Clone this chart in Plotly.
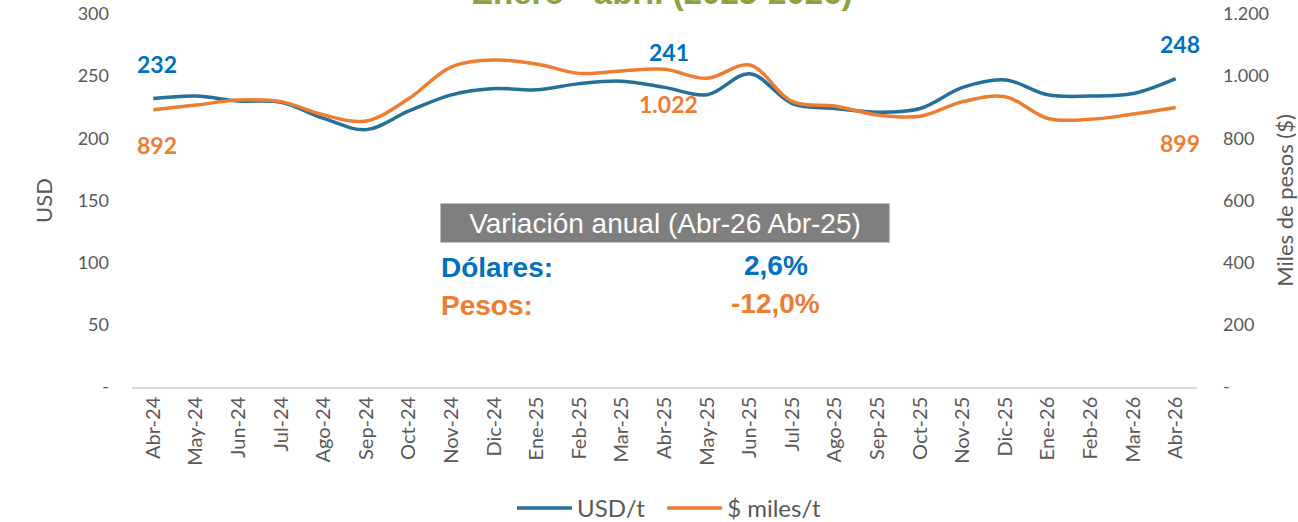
import plotly.graph_objects as go

months = ["Abr-24", "May-24", "Jun-24", "Jul-24", "Ago-24", "Sep-24", "Oct-24",
          "Nov-24", "Dic-24", "Ene-25", "Feb-25", "Mar-25", "Abr-25", "May-25",
          "Jun-25", "Jul-25", "Ago-25", "Sep-25", "Oct-25", "Nov-25", "Dic-25",
          "Ene-26", "Feb-26", "Mar-26", "Abr-26"]
usd_t = [232, 234, 230, 229, 216, 207, 222, 235, 240, 239, 244, 246, 241, 235,
         252, 228, 224, 221, 224, 241, 247, 235, 234, 236, 248]
pesos_t = [892, 907, 923, 918, 875, 856, 928, 1030, 1052, 1039, 1009, 1017, 1022, 993,
           1036, 918, 904, 875, 871, 918, 934, 864, 861, 878, 899]

left_ticks = [0, 50, 100, 150, 200, 250, 300]
left_text = ["-", "50", "100", "150", "200", "250", "300"]
right_ticks = [0, 200, 400, 600, 800, 1000, 1200]
right_text = ["-", "200", "400", "600", "800", "1.000", "1.200"]

usd_labels = {"Abr-24": "232", "Abr-25": "241", "Abr-26": "248"}
peso_labels = {"Abr-24": "892", "Abr-25": "1.022", "Abr-26": "899"}

title_text = "Enero - abril (2025-2026)"
box_text = "Variación anual (Abr-26 Abr-25)"
var_usd = "2,6%"
var_pesos = "-12,0%"

BLUE_LINE = "#256F98"
ORANGE_LINE = "#EF7D31"
BLUE_TXT = "#0070C0"
ORANGE_TXT = "#ED7D31"
GREY = "#595959"

fig = go.Figure()
fig.add_trace(go.Scatter(x=months, y=usd_t, name="USD/t\u00a0\u00a0", mode="lines",
                         line=dict(color=BLUE_LINE, width=3.5, shape="spline", smoothing=1.0),
                         yaxis="y"))
fig.add_trace(go.Scatter(x=months, y=pesos_t, name="$ miles/t", mode="lines",
                         line=dict(color=ORANGE_LINE, width=3.5, shape="spline", smoothing=1.0),
                         yaxis="y2"))

ann = []
for m, t in usd_labels.items():
    i = months.index(m)
    ann.append(dict(x=m, y=usd_t[i], xref="x", yref="y", text="<b>%s</b>" % t,
                    showarrow=False, xshift=4, yshift=35,
                    font=dict(family="Lato", size=23, color=BLUE_TXT)))
for m, t in peso_labels.items():
    i = months.index(m)
    ann.append(dict(x=m, y=pesos_t[i], xref="x", yref="y2", text="<b>%s</b>" % t,
                    showarrow=False, xshift=4, yshift=-35,
                    font=dict(family="Lato", size=23, color=ORANGE_TXT)))

L, R, T, B = 132, 101, 14, 135.3
W, H = 1298, 522
PW, PH = W - L - R, H - T - B

def px(x):
    return (x - L) / PW

def py(y):
    return (H - B - y) / PH

ann.append(dict(x=px(662), y=py(13), xref="paper", yref="paper", text="<b>%s</b>" % title_text,
                showarrow=False, xanchor="center", yanchor="bottom",
                font=dict(family="Liberation Sans, Arial", size=33, color="#8AA33F")))
ann.append(dict(x=px(664.5), y=py(223), xref="paper", yref="paper", text=box_text,
                showarrow=False, xanchor="center", yanchor="middle",
                width=442, height=32, bgcolor="#7F7F7F", borderpad=3,
                font=dict(family="Liberation Sans, Arial", size=28, color="#FFFFFF")))
ann.append(dict(x=px(439), y=py(267), xref="paper", yref="paper", text="<b>Dólares:</b>",
                showarrow=False, xanchor="left", yanchor="middle",
                font=dict(family="Liberation Sans, Arial", size=28, color=BLUE_TXT)))
ann.append(dict(x=px(775.5), y=py(265), xref="paper", yref="paper", text="<b>%s</b>" % var_usd,
                showarrow=False, xanchor="center", yanchor="middle",
                font=dict(family="Liberation Sans, Arial", size=28, color=BLUE_TXT)))
ann.append(dict(x=px(439), y=py(305), xref="paper", yref="paper", text="<b>Pesos:</b>",
                showarrow=False, xanchor="left", yanchor="middle",
                font=dict(family="Liberation Sans, Arial", size=28, color=ORANGE_TXT)))
ann.append(dict(x=px(775), y=py(303), xref="paper", yref="paper", text="<b>%s</b>" % var_pesos,
                showarrow=False, xanchor="center", yanchor="middle",
                font=dict(family="Liberation Sans, Arial", size=28, color=ORANGE_TXT)))

fig.update_layout(
    width=W, height=H,
    margin=dict(l=L, r=R, t=T, b=B, autoexpand=False),
    paper_bgcolor="white", plot_bgcolor="white",
    font=dict(family="Lato", color=GREY, size=18),
    showlegend=True,
    legend=dict(orientation="h", x=px(512), xanchor="left", y=py(508), yanchor="middle",
                font=dict(family="Lato", size=24, color=GREY), itemwidth=55,
                traceorder="normal"),
    xaxis=dict(type="category", range=[-0.5, len(months) - 0.5], showgrid=False,
               showline=True, linecolor="#D9D9D9", linewidth=1.5, ticks="",
               tickangle=-90, tickfont=dict(family="Lato", size=20, color=GREY),
               zeroline=False),
    yaxis=dict(range=[0, 300], tickvals=left_ticks, ticktext=left_text, showgrid=False,
               zeroline=False, showline=False, ticks="", ticklabelstandoff=22,
               tickfont=dict(family="Lato", size=18, color=GREY),
               title=dict(text="USD", font=dict(family="Lato", size=22, color=GREY), standoff=18)),
    yaxis2=dict(range=[0, 1200], tickvals=right_ticks, ticktext=right_text, overlaying="y",
                side="right", showgrid=False, zeroline=False, showline=False, ticks="",
                ticklabelstandoff=25,
                tickfont=dict(family="Lato", size=18, color=GREY),
                title=dict(text="Miles de pesos ($)", font=dict(family="Lato", size=22, color=GREY),
                           standoff=15)),
    annotations=ann,
)

fig.write_html("out.html", config={"displayModeBar": False},
               post_script="document.body.style.margin='0';")
